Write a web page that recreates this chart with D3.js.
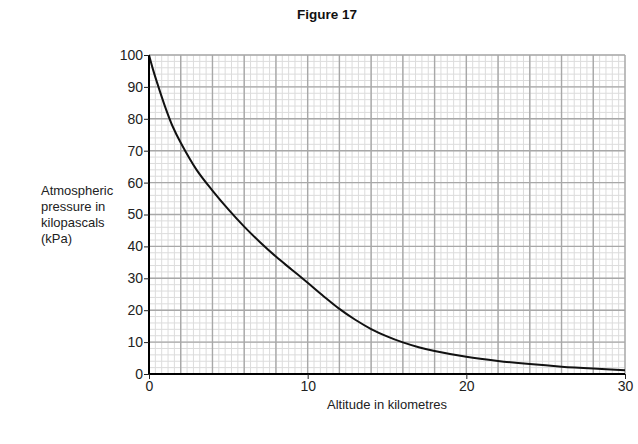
<!DOCTYPE html>
<html>
<head>
<meta charset="utf-8">
<script src="https://cdn.jsdelivr.net/npm/d3@7"></script>
<style>
  html, body { margin: 0; padding: 0; background: #fff; }
  svg { display: block; font-family: "Liberation Sans", Arial, sans-serif; }
</style>
</head>
<body>
<div id="chart"></div>
<script>
// Data
const altitudeKm = [0, 0.25, 0.5, 1, 1.5, 2, 3, 4, 5, 6, 7, 8, 9, 10, 11, 12, 13, 14, 15, 16, 17, 18, 20, 22, 24, 26, 28, 30];
const pressureKPa = [100, 95.5, 91.5, 84, 77.5, 72.5, 64, 57.5, 51.6, 46.2, 41.3, 36.8, 32.7, 28.6, 24.4, 20.4, 17.0, 14.1, 11.8, 9.9, 8.4, 7.2, 5.4, 4.1, 3.1, 2.3, 1.7, 1.2];
const xTicks = [0, 10, 20, 30];
const yTicks = [0, 10, 20, 30, 40, 50, 60, 70, 80, 90, 100];
const yLabelLines = ["Atmospheric", "pressure in", "kilopascals", "(kPa)"];
const xLabel = "Altitude in kilometres";
const title = "Figure 17";

const W = 638, H = 444;
const svg = d3.select("#chart").append("svg").attr("width", W).attr("height", H);

const x = d3.scaleLinear().domain([0, 30]).range([149, 625]);
const y = d3.scaleLinear().domain([0, 100]).range([374, 55]);

// minor grid
const g = svg.append("g");
const minorX = d3.range(0, 30.001, 0.4);
const minorY = d3.range(0, 100.001, 2);
g.selectAll("line.mx").data(minorX).enter().append("line")
  .attr("x1", d => x(d)).attr("x2", d => x(d))
  .attr("y1", y(0)).attr("y2", y(100))
  .attr("stroke", "#dcdcdc").attr("stroke-width", 1);
g.selectAll("line.my").data(minorY).enter().append("line")
  .attr("y1", d => y(d)).attr("y2", d => y(d))
  .attr("x1", x(0)).attr("x2", x(30))
  .attr("stroke", "#dcdcdc").attr("stroke-width", 1);
// major grid
const majorX = d3.range(0, 30.001, 2);
const majorY = d3.range(0, 100.001, 10);
g.selectAll("line.Mx").data(majorX).enter().append("line")
  .attr("x1", d => x(d)).attr("x2", d => x(d))
  .attr("y1", y(0)).attr("y2", y(100))
  .attr("stroke", "#a8a8a8").attr("stroke-width", 1.4);
g.selectAll("line.My").data(majorY).enter().append("line")
  .attr("y1", d => y(d)).attr("y2", d => y(d))
  .attr("x1", x(0)).attr("x2", x(30))
  .attr("stroke", "#a8a8a8").attr("stroke-width", 1.4);

// curve
const pts = altitudeKm.map((a, i) => [a, pressureKPa[i]]);
svg.append("path")
  .datum(pts)
  .attr("fill", "none")
  .attr("stroke", "#111")
  .attr("stroke-width", 2)
  .attr("d", d3.line().x(d => x(d[0])).y(d => y(d[1])).curve(d3.curveCatmullRom.alpha(0.5)));

// axes
const xAxis = svg.append("g").attr("transform", `translate(0,${y(0)})`)
  .call(d3.axisBottom(x).tickValues(xTicks).tickSize(5).tickPadding(2).tickFormat(d3.format("d")));
const yAxis = svg.append("g").attr("transform", `translate(${x(0)},0)`)
  .call(d3.axisLeft(y).tickValues(yTicks).tickSize(5).tickPadding(1).tickFormat(d3.format("d")));
[xAxis, yAxis].forEach(a => {
  a.select(".domain").attr("stroke", "#000").attr("stroke-width", 2);
  a.selectAll(".tick line").attr("stroke", "#222").attr("stroke-width", 1);
  a.selectAll(".tick text").attr("fill", "#222")
    .style("font-family", '"Liberation Sans", Arial, sans-serif').style("font-size", "14px");
});
xAxis.select(".domain").attr("d", `M${x(0)},0H${x(30)}`);
yAxis.select(".domain").attr("d", `M0,${y(0)}V${y(100)}`);

// title
svg.append("text").attr("x", 327).attr("y", 19).attr("text-anchor", "middle")
  .style("font-weight", "bold").style("font-size", "13.5px").attr("fill", "#111").text(title);

// y label
const yl = svg.append("text").attr("x", 41).attr("y", 195).style("font-size", "13px").attr("fill", "#222");
yLabelLines.forEach((t, i) => {
  yl.append("tspan").attr("x", 41).attr("y", 195 + i * 16).text(t);
});

// x label
svg.append("text").attr("x", 387).attr("y", 409).attr("text-anchor", "middle")
  .style("font-size", "13px").attr("fill", "#222").text(xLabel);
</script>
</body>
</html>
